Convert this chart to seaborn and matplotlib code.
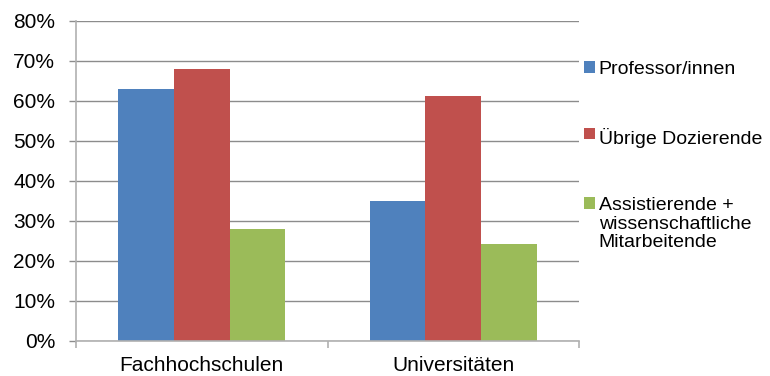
#imports
import seaborn as sns
import numpy as np
import pandas as pd
import matplotlib.pyplot as plt
from matplotlib.ticker import PercentFormatter, FixedLocator

#data (share in %)
schools = ["Fachhochschulen", "Universitäten"]
groups = ["Professor/innen", "Übrige Dozierende",
          "Assistierende +\nwissenschaftliche\nMitarbeitende"]
professoren = [63, 35]
uebrige = [68, 61.2]
assistierende = [28, 24.2]
colors = ["#4F81BD", "#C0504D", "#9BBB59"]

#long form table for seaborn
df = pd.DataFrame({
    "school": schools * 3,
    "group": [groups[0]] * 2 + [groups[1]] * 2 + [groups[2]] * 2,
    "value": professoren + uebrige + assistierende,
})

sns.set_style("white")
plt.rcParams["font.family"] = ["Liberation Sans", "DejaVu Sans"]
plt.rcParams["text.color"] = "black"
plt.rcParams["xtick.labelcolor"] = "black"
plt.rcParams["ytick.labelcolor"] = "black"

fig = plt.figure(figsize=(7.7, 3.76), dpi=100)
ax = fig.add_axes([76 / 770, 1 - 341 / 376, (579 - 76) / 770, (341 - 21) / 376])

sns.barplot(data=df, x="school", y="value", hue="group", palette=colors,
            width=0.665, gap=0, saturation=1, linewidth=0, ax=ax)

#axes look (Excel style)
grey = "#8C8C8C"
ax.set_xlim(-0.5, 1.5)
ax.set_ylim(0, 80)
ax.set_yticks(np.arange(0, 81, 10))
ax.yaxis.set_major_formatter(PercentFormatter(decimals=0))
ax.grid(axis="y", color=grey, linewidth=1)
ax.set_axisbelow(True)
for side in ["top", "right"]:
    ax.spines[side].set_visible(False)
for side in ["left", "bottom"]:
    ax.spines[side].set_color("#B0B0B0")
    ax.spines[side].set_linewidth(1.2)
ax.set_xlabel("")
ax.set_ylabel("")
ax.tick_params(axis="y", which="major", direction="out", length=5, width=1,
               color=grey, labelsize=15, pad=10, left=True)
ax.tick_params(axis="x", which="major", length=0, labelsize=15, pad=11)
ax.xaxis.set_minor_locator(FixedLocator([-0.5, 0.5, 1.5]))
ax.tick_params(axis="x", which="minor", direction="out", length=5, width=1.2,
               color="#B0B0B0", bottom=True)

#legend on the right
handles, labels = ax.get_legend_handles_labels()
ax.get_legend().remove()
leg = fig.legend(handles, labels, loc="upper left",
                 bbox_to_anchor=(584 / 770, 1 - 61 / 376),
                 frameon=False, fontsize=14, borderpad=0, borderaxespad=0,
                 handlelength=0.55, handleheight=0.55, handletextpad=0.2,
                 labelspacing=2.55)
for t in leg.get_texts():
    t.set_linespacing(1.12)
#square next to first line of the long label
for col in leg._legend_handle_box.get_children():
    for item in col.get_children():
        item.align = "top"

fig.savefig("out.png", dpi=100)
